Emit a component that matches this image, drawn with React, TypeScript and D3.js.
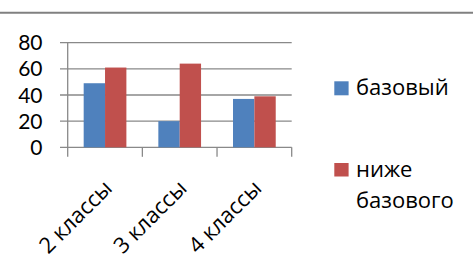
import React from "react";
import * as d3 from "d3";

const categories = ["2 классы", "3 классы", "4 классы"];
const seriesNames = ["базовый", "ниже базового"];
const basic = [49, 20, 37];
const below = [61, 64, 39];
const yTicks = [0, 20, 40, 60, 80];
const colors = ["#4F81BD", "#C0504D"];

const W = 473;
const H = 268;
const FONT = "'Open Sans', sans-serif";
const NUM_FONT = "Lato, 'Open Sans', sans-serif";
const FS = 22;

export default function App() {
  const left = 67.7;
  const right = 291.7;
  const top = 42.7;
  const bottom = 147.3;
  const x = d3.scaleBand<string>().domain(categories).range([left, right]).paddingInner(0).paddingOuter(0);
  const y = d3.scaleLinear().domain([0, 80]).range([bottom, top]);
  const bw = x.bandwidth() * 0.286;
  const series = [basic, below];

  return (
    <svg width={W} height={H} style={{ position: "absolute", left: 0, top: 0 }}>
      <rect x={0} y={0} width={W} height={H} fill="#fff" />
      <line x1={0} x2={W} y1={12.7} y2={12.7} stroke="#808080" strokeWidth={2} />
      {yTicks.map((t) => (
        <g key={t}>
          <line x1={60} x2={right} y1={y(t)} y2={y(t)} stroke="#898989" strokeWidth={1.3} />
          <text x={42.5} y={y(t)} dy="0.36em" textAnchor="end" fontFamily={NUM_FONT} fontSize={21} fill="#000">
            {t}
          </text>
        </g>
      ))}
      <line x1={left} x2={left} y1={top} y2={bottom + 9.5} stroke="#898989" strokeWidth={1.3} />
      {categories.map((c) => (
        <line key={c} x1={x(c)! + x.bandwidth()} x2={x(c)! + x.bandwidth()} y1={bottom} y2={bottom + 9.5} stroke="#898989" strokeWidth={1.3} />
      ))}
      {categories.map((c, i) => {
        const cx = x(c)! + x.bandwidth() / 2;
        return (
          <g key={c}>
            {series.map((s, k) => (
              <rect
                key={k}
                x={cx - bw + k * bw}
                y={y(s[i])}
                width={bw}
                height={bottom - y(s[i])}
                fill={colors[k]}
              />
            ))}
          </g>
        );
      })}
      {categories.map((c) => {
        const cx = x(c)! + x.bandwidth() / 2;
        return (
          <text
            key={c}
            transform={`translate(${cx + 8.5},${189.5}) rotate(-45)`}
            textAnchor="end"
            fontFamily={FONT}
            fontSize={FS}
            fill="#000"
          >
            {c}
          </text>
        );
      })}
      <rect x={334.3} y={81.3} width={14.3} height={14} fill={colors[0]} />
      <text x={356} y={94.5} fontFamily={FONT} fontSize={FS} fill="#000">{seriesNames[0]}</text>
      <rect x={334.3} y={163} width={14.3} height={13.5} fill={colors[1]} />
      <text x={356} y={176.5} fontFamily={FONT} fontSize={FS} fill="#000">
        <tspan x={356} y={176.5}>ниже</tspan>
        <tspan x={356} y={207.5}>базового</tspan>
      </text>
    </svg>
  );
}
